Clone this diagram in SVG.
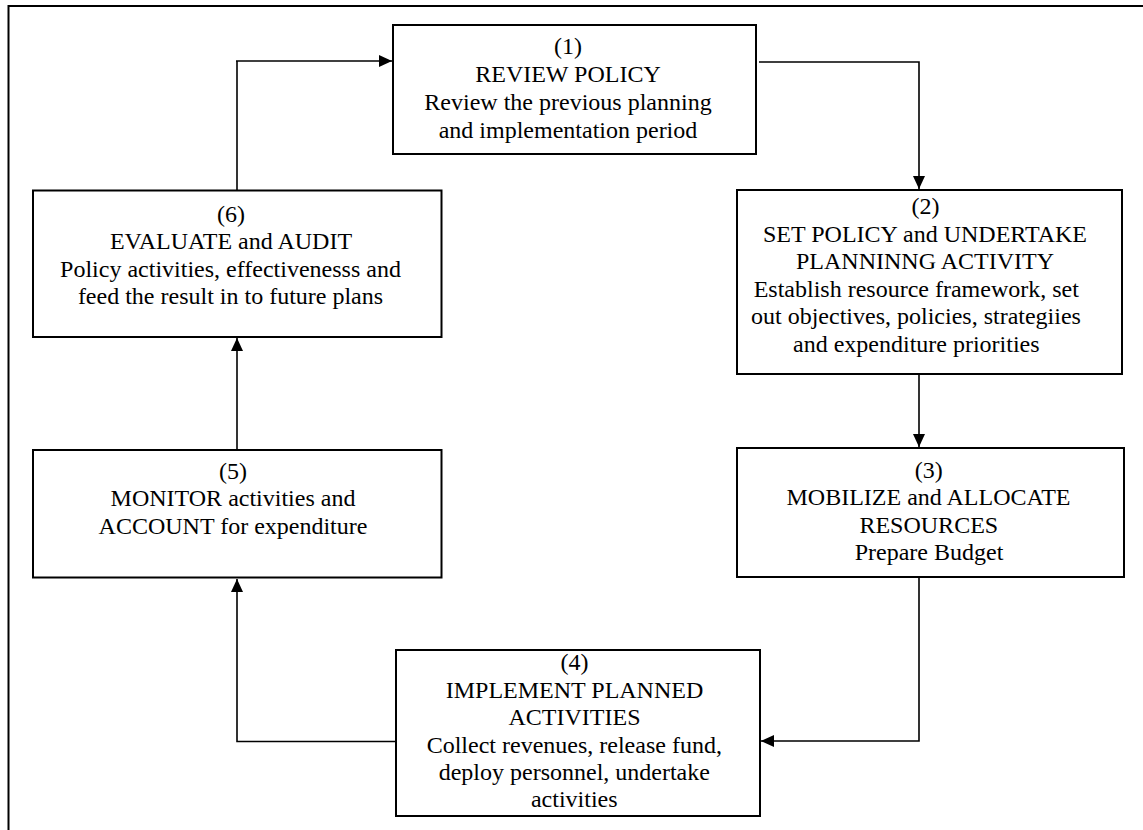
<svg xmlns="http://www.w3.org/2000/svg" width="1143" height="830" viewBox="0 0 1143 830">
<defs>
<style>
.box{fill:#fff;stroke:#000;stroke-width:2}
.frame{fill:none;stroke:#000;stroke-width:2}
.con{fill:none;stroke:#000;stroke-width:1.6}
.t{font-family:'Liberation Serif','Times New Roman','DejaVu Serif',serif;font-size:24px;fill:#000;text-anchor:middle}
</style>
<marker id="arr" markerWidth="13" markerHeight="12" refX="13" refY="6" orient="auto" markerUnits="userSpaceOnUse">
<path d="M0,0 L13,6 L0,12 Z" fill="#000"/>
</marker>
</defs>
<rect width="1143" height="830" fill="#fff"/>
<path class="frame" d="M8.5,830 L8.5,6 L1143,6"/>
<g id="connectors">
<path class="con" d="M236,61 L392,61" marker-end="url(#arr)"/>
<path class="con" d="M237,190 L237,61"/>
<path class="con" d="M759,62 L919,62 L919,189" marker-end="url(#arr)"/>
<path class="con" d="M919,374 L919,447" marker-end="url(#arr)"/>
<path class="con" d="M919,577 L919,741 L761,741" marker-end="url(#arr)"/>
<path class="con" d="M396,741.5 L237,741.5 L237,579" marker-end="url(#arr)"/>
<path class="con" d="M237,449 L237,338" marker-end="url(#arr)"/>
</g>
<g id="node1" class="t" font-family="Liberation Serif, Times New Roman, serif">
<rect class="box" x="393" y="25" width="363" height="129"/>
<text x="568" y="54">(1)</text>
<text x="568" y="82">REVIEW POLICY</text>
<text x="568" y="110">Review the previous planning</text>
<text x="568" y="137.5">and implementation period</text>
</g>
<g id="node2" class="t" font-family="Liberation Serif, Times New Roman, serif">
<rect class="box" x="737" y="190" width="385" height="184"/>
<text x="925.5" y="214">(2)</text>
<text x="925" y="241.5">SET POLICY and UNDERTAKE</text>
<text x="925" y="269">PLANNINNG ACTIVITY</text>
<text x="916.3" y="296.5">Establish resource framework, set</text>
<text x="916" y="323.5">out objectives, policies, strategiies</text>
<text x="916.3" y="351.5">and expenditure priorities</text>
</g>
<g id="node3" class="t" font-family="Liberation Serif, Times New Roman, serif">
<rect class="box" x="737" y="448" width="387" height="129"/>
<text x="928.8" y="478">(3)</text>
<text x="928.5" y="505">MOBILIZE and ALLOCATE</text>
<text x="928.8" y="532.5">RESOURCES</text>
<text x="929" y="560">Prepare Budget</text>
</g>
<g id="node4" class="t" font-family="Liberation Serif, Times New Roman, serif">
<rect class="box" x="396" y="650" width="364" height="166"/>
<text x="574.5" y="669.5">(4)</text>
<text x="574.5" y="697.5">IMPLEMENT PLANNED</text>
<text x="574.5" y="724.5">ACTIVITIES</text>
<text x="574.3" y="752.5">Collect revenues, release fund,</text>
<text x="574.3" y="780">deploy personnel, undertake</text>
<text x="574.3" y="806.5">activities</text>
</g>
<g id="node5" class="t" font-family="Liberation Serif, Times New Roman, serif">
<rect class="box" x="33" y="450" width="408.5" height="127.5"/>
<text x="233" y="479">(5)</text>
<text x="233" y="506">MONITOR activities and</text>
<text x="233" y="534">ACCOUNT for expenditure</text>
</g>
<g id="node6" class="t" font-family="Liberation Serif, Times New Roman, serif">
<rect class="box" x="33" y="190.5" width="408.5" height="146.5"/>
<text x="231" y="222">(6)</text>
<text x="231" y="249">EVALUATE and AUDIT</text>
<text x="230.5" y="276.5">Policy activities, effectivenesss and</text>
<text x="230.5" y="304">feed the result in to future plans</text>
</g>
</svg>
